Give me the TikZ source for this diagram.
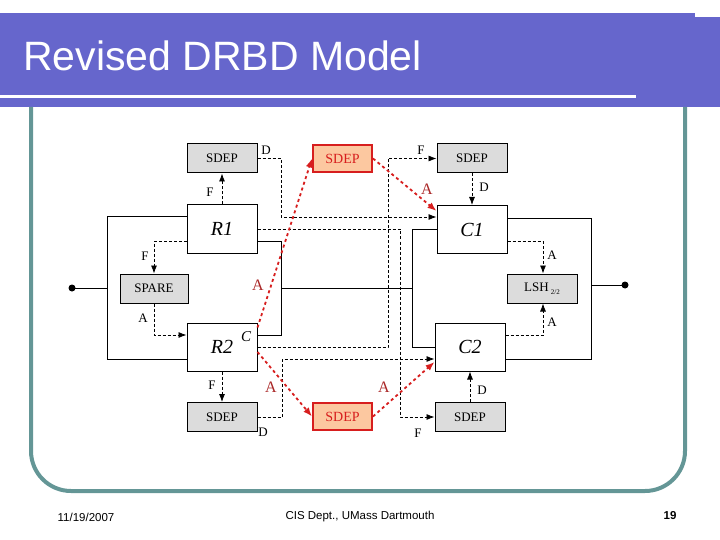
\documentclass[tikz,border=0pt]{standalone}
\usepackage{fontspec}
\setmainfont{Liberation Serif}
\newfontfamily\arialf{Liberation Sans}
\usetikzlibrary{arrows.meta}
\definecolor{hdr}{RGB}{102,102,204}
\definecolor{frm}{RGB}{100,150,150}
\definecolor{gbox}{RGB}{220,220,220}
\definecolor{rfill}{RGB}{252,200,160}
\definecolor{rline}{RGB}{215,30,30}
\definecolor{rtext}{RGB}{170,40,40}
\begin{document}
\begin{tikzpicture}[x=1pt,y=-1pt,
  box/.style={draw,line width=1pt,minimum width=70pt,minimum height=48pt,inner sep=0pt,font=\fontsize{20}{20}\selectfont\itshape},
  gb/.style={draw,line width=1pt,fill=gbox,minimum width=70pt,minimum height=29pt,inner sep=0pt,font=\fontsize{13}{13}\selectfont},
  rb/.style={draw=rline,line width=2pt,fill=rfill,minimum width=59pt,minimum height=27pt,inner sep=0pt,text=rline,font=\fontsize{14}{14}\selectfont},
  sol/.style={line width=1pt},
  dsh/.style={densely dashed,line width=0.8pt,-{Latex[length=8pt,width=6pt]}},
  red/.style={dashed,draw=rline,line width=1.8pt,-{Latex[length=9pt,width=7pt]}},
  lb/.style={font=\fontsize{13}{13}\selectfont,inner sep=0pt},
  rl/.style={font=\fontsize{16}{16}\selectfont,text=rtext,inner sep=0pt}]
\useasboundingbox (0,0) rectangle (720,540);
% header
\fill[hdr] (0,13) rectangle (695,107);
\fill[hdr] (636,17) rectangle (720,107);
\fill[white] (0,95) rectangle (636,98);
\node[anchor=base west,text=white,font=\arialf\fontsize{41}{41}\selectfont,inner sep=0pt] (title) at (23,71) {Revised DRBD Model};
% frame
\draw[frm,line width=4pt,rounded corners=40pt] (31,107) -- (31,491) -- (685,491) -- (685,107);
% footer
\node[font=\arialf\fontsize{11.5}{11.5}\selectfont,inner sep=0pt] (date) at (86,517) {11/19/2007};
\node[font=\arialf\fontsize{11.5}{11.5}\selectfont,inner sep=0pt] (dept) at (360,517) {CIS Dept., UMass Dartmouth};
\node[font=\arialf\bfseries\fontsize{11.5}{11.5}\selectfont,inner sep=0pt] (pg) at (670,516) {19};
% nodes
\node[gb] (S1) at (222,158.5) {SDEP};
\node[rb] (RS1) at (342.5,158.5) {SDEP};
\node[gb] (S2) at (472,158.5) {SDEP};
\node[box] (R1) at (222,229) {R1};
\node[box] (C1) at (472,229.5) {C1};
\node[gb,minimum width=68pt] (SP) at (154,288.5) {SPARE};
\node[gb] (LSH) at (542,288.5) {LSH\,\raisebox{-3pt}{\fontsize{7}{7}\selectfont 2/2}};
\node[box] (R2) at (222,347) {R2};
\node[box] (C2) at (470,347) {C2};
\node[gb] (S3) at (222,417) {SDEP};
\node[rb] (RS2) at (342.5,416.5) {SDEP};
\node[gb] (S4) at (470,417) {SDEP};
\fill (72,288) circle (3.5pt) coordinate (in);
\fill (625,285) circle (3.5pt) coordinate (out);
% solid
\draw[sol] (in) -- (107,288);
\draw[sol] ([yshift=12pt]R1.west) -- (107,217) -- (107,359) -- ([yshift=-12pt]R2.west);
\draw[sol] ([yshift=-12pt]R1.east) -- (281,241) -- (281,335) -- ([yshift=12pt]R2.east);
\draw[sol] (281,288) -- (412,288);
\draw[sol] (C1.west) -- (412,229.5) -- (412,347) -- (C2.west);
\draw[sol] ([yshift=11pt]C1.east) -- (591,218.5) -- (591,359) -- ([yshift=-12pt]C2.east);
\draw[sol] (591,285) -- (out);
% dashed
\draw[dsh] (S1.east) -| (281,217) -- ([yshift=12.5pt]C1.west);
\draw[dsh] (R1.north) -- (S1.south);
\draw[dsh] (R1.east) -| (400,417) -- (S4.west);
\draw[dsh] ([yshift=-12pt]R1.west) -| (SP.north);
\draw[dsh] (SP.south) |- ([yshift=12pt]R2.west);
\draw[dsh] (R2.south) -- (S3.north);
\draw[dsh] (S3.east) -| (282,359) -- ([yshift=-12pt]C2.west);
\draw[dsh] (R2.east) -| (388,158.5) -- (S2.west);
\draw[dsh] (S2.south) -- (C1.north);
\draw[dsh] ([yshift=-12pt]C1.east) -| ([xshift=1pt]LSH.north);
\draw[dsh] ([yshift=12pt]C2.east) -| ([xshift=1pt]LSH.south);
\draw[dsh] (S4.north) -- (C2.south);
% red
\draw[red] ([yshift=-5pt]R2.north east) -- (RS1.west);
\draw[red] (RS1.east) -- ([yshift=-6pt]C1.north west);
\draw[red] ([yshift=-5pt]R2.east) -- (RS2.west);
\draw[red] (RS2.east) -- ([yshift=-15pt]C2.west);
% labels
\node[lb] (l1) at (266,150) {D};
\node[lb] (l2) at (210,192) {F};
\node[lb] (l3) at (145,256) {F};
\node[lb] (l4) at (143,318) {A};
\node[lb] (l5) at (212,385) {F};
\node[lb] (l6) at (263,432) {D};
\node[lb] (l7) at (421,150) {F};
\node[lb] (l8) at (484,187) {D};
\node[lb] (l9) at (552,255) {A};
\node[lb] (l10) at (552,322) {A};
\node[lb] (l11) at (482,390) {D};
\node[lb] (l12) at (418,433) {F};
\node[lb,font=\fontsize{15}{15}\selectfont\itshape] (l13) at (246,337) {C};
\node[rl] (a1) at (258,285) {A};
\node[rl] (a2) at (427,189) {A};
\node[rl] (a3) at (271,387) {A};
\node[rl] (a4) at (384,387) {A};
\end{tikzpicture}
\end{document}
